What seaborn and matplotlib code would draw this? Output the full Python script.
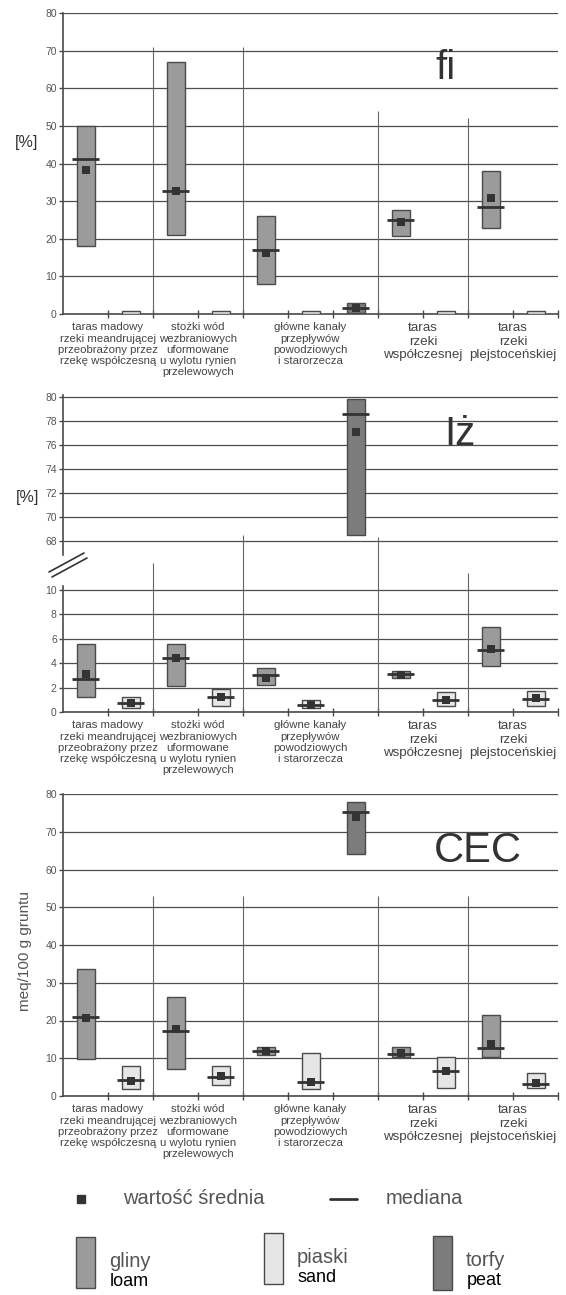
"""
Zakres, mediana i średnia: fi, Iż, CEC dla jednostek geomorfologicznych.
"""

import numpy as np
import pandas as pd
import matplotlib
matplotlib.use("Agg")
import matplotlib.pyplot as plt
from matplotlib.patches import Rectangle
from matplotlib.lines import Line2D
import seaborn as sns

W, H = 566, 1295

# 11 pozycji na osi X: w każdej jednostce glina / piasek (+ torf w trzeciej)
KINDS = ["gliny", "piaski", "gliny", "piaski", "gliny", "piaski", "torfy",
         "gliny", "piaski", "gliny", "piaski"]
UNITS = [
    "taras madowy\nrzeki meandrującej\nprzeobrażony przez\nrzekę współczesną",
    "stożki wód\nwezbraniowych\nuformowane\nu wylotu rynien\nprzelewowych",
    "główne kanały\nprzepływów\npowodziowych\ni starorzecza",
    "taras\nrzeki\nwspółczesnej",
    "taras\nrzeki\nplejstoceńskiej",
]
UNIT_POS = [0.5, 2.5, 5.0, 7.5, 9.5]
BOUNDS = [1.5, 3.5, 6.5, 8.5]

# fi [%]
FI_MIN = [18.0, 0.0, 21.0, 0.0, 8.0, 0.0, 0.2, 20.7, 0.0, 22.9, 0.0]
FI_MAX = [50.0, 0.9, 67.0, 0.9, 26.0, 0.9, 2.9, 27.7, 0.9, 38.1, 0.9]
FI_MED = [41.1, np.nan, 32.6, np.nan, 17.0, np.nan, 1.5, 24.9, np.nan, 28.5, np.nan]
FI_MEAN = [38.4, np.nan, 32.6, np.nan, 16.2, np.nan, 1.5, 24.4, np.nan, 30.9, np.nan]
FI_SEP = [71, 71, 54, 52]

# Iż [%]
IZ_MIN = [1.2, 0.33, 2.1, 0.5, 2.2, 0.33, 68.5, 2.8, 0.46, 3.8, 0.5]
IZ_MAX = [5.6, 1.2, 5.6, 1.9, 3.6, 0.95, 79.8, 3.4, 1.6, 6.95, 1.7]
IZ_MED = [2.7, 0.74, 4.4, 1.2, 3.05, 0.6, 78.6, 3.1, 0.98, 5.1, 1.1]
IZ_MEAN = [3.1, 0.7, 4.4, 1.2, 2.8, 0.6, 77.1, 3.05, 0.98, 5.15, 1.15]
IZ_SEP = [12.2, 14.5, 14.3, 11.4]

# CEC [meq/100 g gruntu]
CEC_MIN = [9.7, 1.95, 7.25, 2.8, 10.9, 1.8, 64.0, 10.3, 2.2, 10.3, 2.0]
CEC_MAX = [33.7, 8.0, 26.2, 8.0, 12.9, 11.3, 78.0, 12.9, 10.3, 21.4, 6.0]
CEC_MED = [21.0, 4.25, 17.1, 5.1, 11.8, 3.7, 75.1, 11.1, 6.5, 12.7, 3.3]
CEC_MEAN = [20.7, 4.0, 17.8, 5.3, 11.8, 3.7, 73.9, 11.5, 6.5, 13.7, 3.5]
CEC_SEP = [53, 53, 53, 53]

FILL = {"gliny": "#9b9b9b", "piaski": "#e6e6e6", "torfy": "#7c7c7c"}
EDGE = "#4a4a4a"
DARK = "#333333"
GRID = "#4d4d4d"
TXT = "#555555"


def fx(px):
    return px / W


def fy(py):
    return 1 - py / H


def panel_df(lo, hi, med, mean):
    return pd.DataFrame({
        "pos": np.arange(len(KINDS), dtype=float),
        "kind": KINDS,
        "lo": lo, "hi": hi, "med": med, "mean": mean,
    })


def draw_marks(ax, df):
    ax.bar(df["pos"], df["hi"] - df["lo"], bottom=df["lo"], width=0.4,
           color=[FILL[k] for k in df["kind"]], edgecolor=EDGE, linewidth=1.0,
           zorder=3)
    d = df.dropna(subset=["med"])
    ax.hlines(d["med"], d["pos"] - 0.31, d["pos"] + 0.31, color=DARK,
              linewidth=2.0, zorder=4)
    sns.scatterplot(data=df.dropna(subset=["mean"]), x="pos", y="mean", ax=ax,
                    marker="s", s=40, color=DARK, linewidth=0, zorder=5,
                    legend=False)
    ax.set_xlabel("")
    ax.set_ylabel("")


def style_axis(ax, ylim, yticks, bottom=True):
    ax.set_xlim(-0.5, 10.5)
    ax.set_ylim(*ylim)
    ax.set_yticks(yticks)
    ax.grid(axis="y", color=GRID, linewidth=0.9)
    ax.grid(axis="x", visible=False)
    ax.set_axisbelow(True)
    for s in ["top", "right"]:
        ax.spines[s].set_visible(False)
    ax.spines["left"].set_color(EDGE)
    ax.spines["left"].set_linewidth(1.2)
    ax.tick_params(axis="y", direction="out", length=3, width=1, color=EDGE,
                   labelsize=7.5, labelcolor=TXT, pad=1.5, left=True)
    if bottom:
        ax.xaxis.remove_overlapping_locs = False
        ax.spines["bottom"].set_color(EDGE)
        ax.spines["bottom"].set_linewidth(1.2)
        # etykiety jednostek jako główne, kreski granic pozycji jako pomocnicze
        ax.set_xticks(UNIT_POS, labels=UNITS)
        ax.set_xticks(np.arange(0.5, 11, 1.0), minor=True)
        ax.tick_params(axis="x", which="minor", direction="inout", length=6,
                       width=1, color=EDGE, bottom=True)
        ax.tick_params(axis="x", which="major", length=0, pad=6,
                       labelcolor="#444444")
        for i, lab in enumerate(ax.get_xticklabels()):
            lab.set_linespacing(1.15)
            lab.set_fontsize(8.2 if i < 3 else 9.6)
    else:
        ax.spines["bottom"].set_visible(False)
        ax.set_xticks([])


def separators(ax, heights):
    ax.vlines(BOUNDS, 0, heights, color="#666666", linewidth=0.8, zorder=2,
              clip_on=False)


sns.set_theme(style="white")
plt.rcParams["font.family"] = ["Liberation Sans", "DejaVu Sans"]

fig = plt.figure(figsize=(W / 100, H / 100), dpi=100)

# --- fi ---
ax1 = fig.add_axes([fx(63), fy(314), fx(558) - fx(63), fy(13) - fy(314)])
style_axis(ax1, (0, 80), range(0, 81, 10))
draw_marks(ax1, panel_df(FI_MIN, FI_MAX, FI_MED, FI_MEAN))
separators(ax1, FI_SEP)
ax1.text(8.0, 65.4, "fi", fontsize=29, color=DARK, ha="center", va="center")
fig.text(fx(27), fy(142), "[%]", fontsize=11.5, color=DARK, ha="center", va="center")

# --- Iż (przerwana oś) ---
iz = panel_df(IZ_MIN, IZ_MAX, IZ_MED, IZ_MEAN)
ax2t = fig.add_axes([fx(63), fy(555.4), fx(558) - fx(63), fy(394.6) - fy(555.4)])
style_axis(ax2t, (66.8, 80.2), range(68, 81, 2), bottom=False)
draw_marks(ax2t, iz)
ax2t.text(8.32, 76.9, "Iż", fontsize=29, color=DARK, ha="center", va="center")

ax2b = fig.add_axes([fx(63), fy(712), fx(558) - fx(63), fy(586.3) - fy(712)])
style_axis(ax2b, (0, 10.3), range(0, 11, 2))
draw_marks(ax2b, iz)
separators(ax2b, IZ_SEP)
fig.text(fx(28), fy(498), "[%]", fontsize=11.5, color=DARK, ha="center", va="center")

for dx, dy in [(0, 0), (3, 5)]:
    fig.add_artist(Line2D([fx(49 + dx), fx(84 + dx)], [fy(572 + dy), fy(553 + dy)],
                          color=DARK, linewidth=1.2))

# --- CEC ---
ax3 = fig.add_axes([fx(63), fy(1096), fx(558) - fx(63), fy(794) - fy(1096)])
style_axis(ax3, (0, 80), range(0, 81, 10))
draw_marks(ax3, panel_df(CEC_MIN, CEC_MAX, CEC_MED, CEC_MEAN))
separators(ax3, CEC_SEP)
ax3.text(8.72, 65, "CEC", fontsize=30, color=DARK, ha="center", va="center")
fig.text(fx(25), fy(951), "meq/100 g gruntu", fontsize=11, color=TXT,
         rotation=90, ha="center", va="center")

# --- legenda ---
axl = fig.add_axes([0, 0, 1, 135 / H])
axl.set_xlim(0, W)
axl.set_ylim(H, H - 135)
axl.axis("off")
axl.plot([81], [1199], marker="s", markersize=6, color=DARK, linestyle="none")
axl.text(123, 1199, "wartość średnia", fontsize=14.5, color=TXT, va="center")
axl.plot([330, 357], [1199, 1199], color=DARK, linewidth=2.0)
axl.text(386, 1199, "mediana", fontsize=14.5, color=TXT, va="center")

for (x0, y0, h, kind, pl, en) in [
    (76, 1237, 51, "gliny", "gliny", "loam"),
    (264, 1233, 51, "piaski", "piaski", "sand"),
    (433, 1236, 54, "torfy", "torfy", "peat"),
]:
    axl.add_patch(Rectangle((x0, y0), 19, h, facecolor=FILL[kind],
                            edgecolor=EDGE, linewidth=1.0))
    axl.text(x0 + 33, y0 + 25, pl, fontsize=14.5, color=TXT, va="center")
    axl.text(x0 + 34, y0 + 45, en, fontsize=13, color="black", va="center")

fig.savefig("out.png", dpi=100)
plt.close(fig)
